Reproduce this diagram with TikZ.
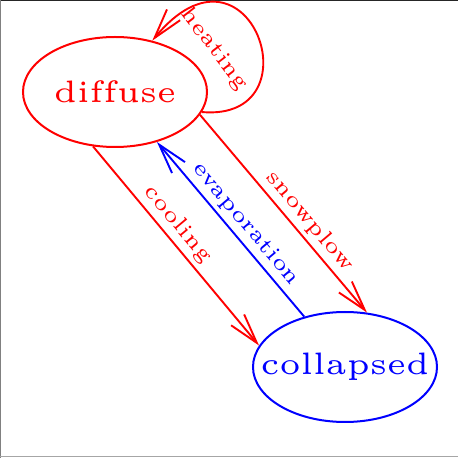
\documentclass[tikz,border=0pt]{standalone}
\usepackage{graphicx}
\usetikzlibrary{arrows.meta, positioning, shapes.geometric}
\definecolor{hotred}{RGB}{255,0,0}
\definecolor{coldblue}{RGB}{0,0,255}
\newcommand{\statefont}[1]{\makebox[0pt]{\scalebox{6.2}{\tiny #1}}}
\newcommand{\edgefont}[1]{\scalebox{4.4}{\tiny #1}}

\begin{document}
\begin{tikzpicture}[x=1pt, y=1pt,
  state/.style={ellipse, draw, line width=2pt, minimum width=184pt,
                minimum height=110pt, inner sep=0pt},
  trans/.style={line width=1.9pt, -{Straight Barb[length=30pt,width=17pt]}},
  lbl/.style={sloped, inner sep=4.5pt}]

% ---- frame ----
\useasboundingbox (0,0) rectangle (458,458);
\draw[black!85, line width=1pt] (0,457.5) -- (458,457.5);
\draw[gray, line width=1pt] (0.5,0) -- (0.5,458);
\draw[gray!70, line width=1pt] (0,1.5) -- (458,1.5);

% ---- states ----
\node[state, hotred] (diffuse) at (115,366) {\statefont{dif\kern0pt fuse}};
\node[state, coldblue] (collapsed) at (345,91) {\statefont{collapsed}};

% ---- transitions ----
\draw[trans, hotred] (diffuse.-13) .. controls +(117,-10) and +(97,118) .. (diffuse.54)
  node[lbl, below, pos=0.57, inner sep=33pt] {\edgefont{heating}};
\draw[trans, hotred] (diffuse.-112) -- (collapsed.166)
  node[lbl, above, pos=0.44] {\edgefont{cooling}};
\draw[trans, coldblue] (collapsed.129) -- (diffuse.-50)
  node[lbl, above, pos=0.475] {\edgefont{evaporation}};
\draw[trans, hotred] (diffuse.-15.5) -- (collapsed.68)
  node[lbl, above, pos=0.59] {\edgefont{snowplow}};

\end{tikzpicture}
\end{document}
